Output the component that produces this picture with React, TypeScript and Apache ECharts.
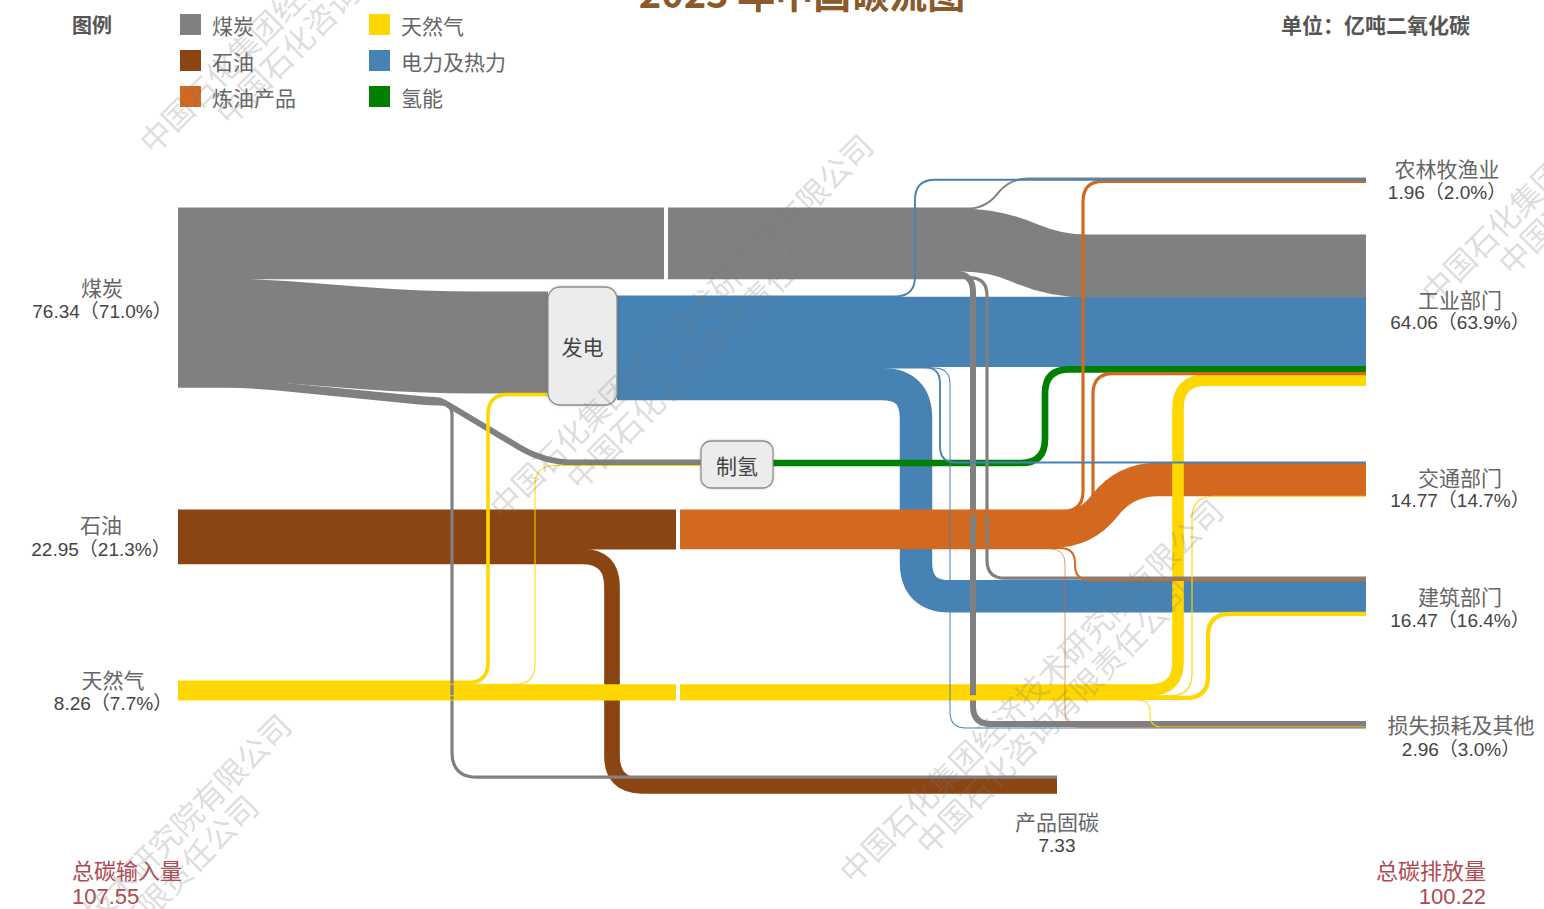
import React, { useEffect, useRef } from 'react';
import * as echarts from 'echarts';

// ---------------- data ----------------
const sourceNames = ['煤炭', '石油', '天然气'];
const sourceValues = [76.34, 22.95, 8.26];
const sectorNames = ['农林牧渔业', '工业部门', '交通部门', '建筑部门', '损失损耗及其他'];
const sectorValues = [1.96, 64.06, 14.77, 16.47, 2.96];
const productName = '产品固碳';
const productValue = 7.33;
const totalInput = 107.55;
const totalEmission = 100.22;
const processNames = ['发电', '制氢'];
const legendNames = ['煤炭', '石油', '炼油产品', '天然气', '电力及热力', '氢能'];
const titleText = '2023 年中国碳流图';
const unitText = '单位：亿吨二氧化碳';

// flows: [source, target, value 亿吨CO2]
const links: [string, string, number][] = [
  ['煤炭', '农林牧渔业', 0.5],
  ['煤炭', '工业部门', 26.4],
  ['煤炭', '损失损耗及其他', 2.2],
  ['煤炭', '建筑部门', 1.0],
  ['煤炭', '发电', 43.04],
  ['煤炭', '制氢', 2.2],
  ['煤炭', '产品固碳', 1.0],
  ['石油', '炼油', 16.62],
  ['石油', '产品固碳', 6.33],
  ['天然气', '发电', 1.2],
  ['天然气', '制氢', 0.3],
  ['天然气', '工业部门', 4.6],
  ['天然气', '交通部门', 0.36],
  ['天然气', '建筑部门', 1.5],
  ['天然气', '损失损耗及其他', 0.3],
  ['发电', '农林牧渔业', 0.46],
  ['发电', '工业部门', 29.56],
  ['发电', '交通部门', 0.45],
  ['发电', '损失损耗及其他', 0.3],
  ['发电', '建筑部门', 13.47],
  ['制氢', '工业部门', 2.5],
  ['炼油', '农林牧渔业', 1.0],
  ['炼油', '工业部门', 1.0],
  ['炼油', '交通部门', 13.96],
  ['炼油', '建筑部门', 0.5],
  ['炼油', '损失损耗及其他', 0.16],
];

// ---------------- layout & style ----------------
const W = 1544;
const H = 909;
const PX_PER_UNIT = 2.35;
const FONT = '"Noto Sans CJK SC", "Liberation Sans", sans-serif';
const NUM_FONT = '"Liberation Sans", "Noto Sans CJK SC", sans-serif';

const nodeColors: Record<string, string> = {
  煤炭: '#808080',
  石油: '#8B4513',
  炼油: '#D2691E',
  天然气: '#FFD700',
  发电: '#4682B4',
  制氢: '#008000',
};
const legendColors = ['#808080', '#8B4513', '#D2691E', '#FFD700', '#4682B4', '#008000'];

type NodeLayout = {
  inX?: number; inTop?: number; inOrder?: string[];
  outX?: number; outTop?: number; outOrder?: string[];
};
const NODE_LAYOUT: Record<string, NodeLayout> = {
  煤炭: { outX: 178, outTop: 208, outOrder: ['农林牧渔业', '工业部门', '损失损耗及其他', '建筑部门', '发电', '制氢', '产品固碳'] },
  石油: { outX: 178, outTop: 510, outOrder: ['炼油', '产品固碳'] },
  天然气: { outX: 178, outTop: 681, outOrder: ['发电', '制氢', '工业部门', '交通部门', '建筑部门', '损失损耗及其他'] },
  发电: { inX: 548, inTop: 292, inOrder: ['煤炭', '天然气'], outX: 617, outTop: 296, outOrder: ['农林牧渔业', '工业部门', '交通部门', '损失损耗及其他', '建筑部门'] },
  制氢: { inX: 701, inTop: 460, inOrder: ['煤炭', '天然气'], outX: 773, outTop: 460.05, outOrder: ['工业部门'] },
  炼油: { inX: 676, inTop: 510, inOrder: ['石油'], outX: 680, outTop: 510, outOrder: ['农林牧渔业', '工业部门', '交通部门', '建筑部门', '损失损耗及其他'] },
  农林牧渔业: { inX: 1366, inTop: 178, inOrder: ['煤炭', '发电', '炼油'] },
  工业部门: { inX: 1366, inTop: 235, inOrder: ['煤炭', '发电', '制氢', '炼油', '天然气'] },
  交通部门: { inX: 1366, inTop: 462, inOrder: ['发电', '炼油', '天然气'] },
  建筑部门: { inX: 1366, inTop: 577, inOrder: ['煤炭', '炼油', '发电', '天然气'] },
  损失损耗及其他: { inX: 1366, inTop: 721.5, inOrder: ['煤炭', '天然气', '炼油', '发电'] },
  产品固碳: { inX: 1057, inTop: 776, inOrder: ['煤炭', '石油'] },
};

type Turn = [number | [number, number], number | 't'];
const ROUTES: Record<string, { r: number; turns: Turn[] }> = {
  '煤炭>农林牧渔业': { r: 18, turns: [[[985, 1010], 't']] },
  '煤炭>工业部门': { r: 40, turns: [[[995, 1055], 't']] },
  '煤炭>损失损耗及其他': { r: 18, turns: [[973, 't']] },
  '煤炭>建筑部门': { r: 18, turns: [[987, 't']] },
  '煤炭>发电': { r: 60, turns: [[[250, 420], 't']] },
  '煤炭>制氢': { r: 30, turns: [[[250, 430], 400], [[440, 545], 't']] },
  '煤炭>产品固碳': { r: 25, turns: [[[250, 430], 404], [452, 't']] },
  '石油>炼油': { r: 0, turns: [] },
  '石油>产品固碳': { r: 30, turns: [[612, 't']] },
  '天然气>发电': { r: 20, turns: [[488, 't']] },
  '天然气>制氢': { r: 20, turns: [[535, 't']] },
  '天然气>工业部门': { r: 28, turns: [[1178, 't']] },
  '天然气>交通部门': { r: 22, turns: [[1192, 't']] },
  '天然气>建筑部门': { r: 22, turns: [[1208, 't']] },
  '天然气>损失损耗及其他': { r: 12, turns: [[1150, 't']] },
  '发电>农林牧渔业': { r: 20, turns: [[915, 't']] },
  '发电>工业部门': { r: 0, turns: [] },
  '发电>交通部门': { r: 16, turns: [[940, 't']] },
  '发电>损失损耗及其他': { r: 16, turns: [[950, 't']] },
  '发电>建筑部门': { r: 34, turns: [[916, 't']] },
  '制氢>工业部门': { r: 24, turns: [[1045, 't']] },
  '炼油>农林牧渔业': { r: 20, turns: [[1083, 't']] },
  '炼油>工业部门': { r: 20, turns: [[1093, 't']] },
  '炼油>交通部门': { r: 40, turns: [[[1085, 1125], 't']] },
  '炼油>建筑部门': { r: 15, turns: [[1075, 't']] },
  '炼油>损失损耗及其他': { r: 15, turns: [[1065, 't']] },
};

const DRAW_FIRST = [
  '发电>建筑部门', '发电>工业部门', '煤炭>工业部门', '煤炭>发电', '石油>炼油', '石油>产品固碳',
  '炼油>交通部门', '制氢>工业部门', '天然气>工业部门',
];

const BOX_LAYOUT: Record<string, { x: number; y: number; w: number; h: number; r: number }> = {
  发电: { x: 548, y: 287, w: 69, h: 118, r: 12 },
  制氢: { x: 701, y: 441, w: 72, h: 47, r: 10 },
};
const SEPARATORS = [
  { x: 664, y0: 204, y1: 281, w: 4 },
  { x: 676, y0: 679, y1: 703, w: 4 },
];

const SOURCE_LABEL_POS = [[102, 287, 311], [101, 524, 549], [113, 679, 703]];
const SECTOR_LABEL_POS = [[1447, 168, 192], [1460, 299, 322], [1460, 477, 500], [1460, 596, 620], [1461, 724, 749]];
const PRODUCT_LABEL_POS = [1057, 821, 845];
const STROKE_OVERLAP = 0.8;

// ---------------- helpers ----------------
const key = (s: string, t: string) => `${s}>${t}`;
const valueOf = new Map<string, number>(links.map(([s, t, v]) => [key(s, t), v]));
const sourceOf = new Map<string, string>(links.map(([s, t]) => [key(s, t), s]));

function computePorts() {
  const ports: Record<string, { sx: number; sy: number; tx: number; ty: number }> = {};
  links.forEach(([s, t]) => { ports[key(s, t)] = { sx: 0, sy: 0, tx: 0, ty: 0 }; });
  Object.keys(NODE_LAYOUT).forEach((name) => {
    const lay = NODE_LAYOUT[name];
    if (lay.outOrder) {
      let y = lay.outTop!;
      lay.outOrder.forEach((t) => {
        const k = key(name, t);
        const w = valueOf.get(k)! * PX_PER_UNIT;
        ports[k].sx = lay.outX!;
        ports[k].sy = y + w / 2;
        y += w;
      });
    }
    if (lay.inOrder) {
      let y = lay.inTop!;
      lay.inOrder.forEach((s) => {
        const k = key(s, name);
        const w = valueOf.get(k)! * PX_PER_UNIT;
        ports[k].tx = lay.inX!;
        ports[k].ty = y + w / 2;
        y += w;
      });
    }
  });
  return ports;
}

function linkPoints(k: string, ports: ReturnType<typeof computePorts>) {
  const p = ports[k];
  const route = ROUTES[k];
  const pts: number[][] = [[p.sx, p.sy]];
  let y = p.sy;
  route.turns.forEach(([tx, ly]) => {
    const ny = ly === 't' ? p.ty : ly;
    const [xa, xb] = Array.isArray(tx) ? tx : [tx, tx];
    pts.push([xa, y], [xb, ny]);
    y = ny;
  });
  pts.push([p.tx, route.turns.length ? y : p.ty]);
  return pts;
}

function roundedPath(raw: number[][], r: number): string {
  const pts: number[][] = [];
  raw.forEach((p) => {
    const last = pts[pts.length - 1];
    if (!last || Math.hypot(p[0] - last[0], p[1] - last[1]) > 0.01) pts.push(p);
  });
  const clean: number[][] = [pts[0]];
  for (let i = 1; i < pts.length - 1; i++) {
    const a = clean[clean.length - 1], b = pts[i], c = pts[i + 1];
    const cross = (b[0] - a[0]) * (c[1] - b[1]) - (b[1] - a[1]) * (c[0] - b[0]);
    if (Math.abs(cross) > 1e-6) clean.push(b);
  }
  if (pts.length > 1) clean.push(pts[pts.length - 1]);
  const f = (n: number) => n.toFixed(2);
  let d = `M${f(clean[0][0])},${f(clean[0][1])}`;
  for (let i = 1; i < clean.length - 1; i++) {
    const [px, py] = clean[i - 1];
    const [cx, cy] = clean[i];
    const [nx, ny] = clean[i + 1];
    const l1 = Math.hypot(cx - px, cy - py);
    const l2 = Math.hypot(nx - cx, ny - cy);
    const dd = Math.min(r, l1 / 2, l2 / 2);
    const ax = cx - ((cx - px) / l1) * dd, ay = cy - ((cy - py) / l1) * dd;
    const bx = cx + ((nx - cx) / l2) * dd, by = cy + ((ny - cy) / l2) * dd;
    d += ` L${f(ax)},${f(ay)} Q${f(cx)},${f(cy)} ${f(bx)},${f(by)}`;
  }
  const last = clean[clean.length - 1];
  d += ` L${f(last[0])},${f(last[1])}`;
  return d;
}

function txt(text: string, x: number, y: number, o: any = {}) {
  const align = o.align || 'center';
  return {
    type: 'text',
    x, y,
    rotation: o.rotation || 0,
    z: o.z ?? 10,
    silent: true,
    style: {
      text,
      fill: o.color || '#555',
      fontSize: o.size || 20,
      fontFamily: o.family || FONT,
      fontWeight: o.weight || 'normal',
      align, textAlign: align,
      verticalAlign: 'middle', textVerticalAlign: 'middle',
    },
  };
}

const fmt = (v: number, total: number) => `${v.toFixed(2)}（${((v / total) * 100).toFixed(1)}%）`;

function buildOption() {
  const ports = computePorts();
  const rest = links
    .map(([s, t]) => key(s, t))
    .filter((k) => !DRAW_FIRST.includes(k))
    .sort((a, b) => valueOf.get(b)! - valueOf.get(a)!);
  const drawKeys = [...DRAW_FIRST, ...rest];
  const flowData = drawKeys.map((k, i) => [i, valueOf.get(k)!]);

  const graphics: any[] = [];
  // title (cut at top edge, as in the reference)
  graphics.push(txt(titleText, 802, -9, { size: 38, weight: 'bold', color: '#8B5A2B' }));
  // legend
  graphics.push(txt('图例', 72, 24, { align: 'left', size: 20, weight: 'bold', color: '#555' }));
  legendNames.forEach((name, i) => {
    const col = Math.floor(i / 3), row = i % 3;
    const x = col === 0 ? 180 : 369;
    const y = 14 + row * 36;
    graphics.push({ type: 'rect', z: 10, silent: true, shape: { x, y, width: 21, height: 21 }, style: { fill: legendColors[i] } });
    graphics.push(txt(name, x + 32, y + 10.5, { align: 'left', size: 21, color: '#666' }));
  });
  graphics.push(txt(unitText, 1281, 24, { align: 'left', size: 21, weight: 'bold', color: '#555' }));

  // node labels
  sourceNames.forEach((n, i) => {
    const [cx, y1, y2] = SOURCE_LABEL_POS[i];
    graphics.push(txt(n, cx, y1, { size: 21, color: '#666' }));
    graphics.push(txt(fmt(sourceValues[i], totalInput), cx, y2, { size: 19, family: NUM_FONT, color: '#444' }));
  });
  sectorNames.forEach((n, i) => {
    const [cx, y1, y2] = SECTOR_LABEL_POS[i];
    graphics.push(txt(n, cx, y1, { size: 21, color: '#666' }));
    graphics.push(txt(fmt(sectorValues[i], totalEmission), cx, y2, { size: 19, family: NUM_FONT, color: '#444' }));
  });
  graphics.push(txt(productName, PRODUCT_LABEL_POS[0], PRODUCT_LABEL_POS[1], { size: 21, color: '#666' }));
  graphics.push(txt(productValue.toFixed(2), PRODUCT_LABEL_POS[0], PRODUCT_LABEL_POS[2], { size: 19, family: NUM_FONT, color: '#444' }));

  // totals
  graphics.push(txt('总碳输入量', 72, 869, { align: 'left', size: 22, color: '#b04a52' }));
  graphics.push(txt(totalInput.toFixed(2), 72, 896, { align: 'left', size: 22, family: NUM_FONT, color: '#b04a52' }));
  graphics.push(txt('总碳排放量', 1486, 869, { align: 'right', size: 22, color: '#b04a52' }));
  graphics.push(txt(totalEmission.toFixed(2), 1486, 896, { align: 'right', size: 22, family: NUM_FONT, color: '#b04a52' }));

  // watermarks
  const wmA = '中国石化集团经济技术研究院有限公司';
  const wmB = '中国石化咨询有限责任公司';
  const wmCells = [[0, 0], [1, 0], [-1, 0], [0, -1], [1, 1]];
  wmCells.forEach(([i, j]) => {
    const cx = 680 + i * 350 + j * 582;
    const cy = 325 + i * 365 - j * 580;
    graphics.push(txt(wmA, cx, cy, { rotation: Math.PI / 4, size: 31, color: 'rgba(120,120,120,0.26)', z: 100 }));
    graphics.push(txt(wmB, cx + 22, cy + 26, { rotation: Math.PI / 4, size: 31, color: 'rgba(120,120,120,0.26)', z: 100 }));
  });

  return {
    animation: false,
    backgroundColor: '#ffffff',
    grid: { left: 0, right: 0, top: 0, bottom: 0 },
    xAxis: { type: 'value', min: 0, max: W, show: false },
    yAxis: { type: 'value', min: 0, max: H, inverse: true, show: false },
    series: [
      {
        type: 'custom',
        name: 'flows',
        silent: true,
        z: 2,
        data: flowData,
        renderItem: (params: any, api: any) => {
          const k = drawKeys[params.dataIndex];
          const pts = linkPoints(k, ports).map((p) => api.coord(p));
          const w = Math.abs(api.size([0, api.value(1) * PX_PER_UNIT])[1]);
          const lw = w >= 1 ? w + STROKE_OVERLAP : w + 0.3;
          return {
            type: 'path',
            shape: { pathData: roundedPath(pts, ROUTES[k].r) },
            style: { fill: 'none', stroke: nodeColors[sourceOf.get(k)!], lineWidth: lw, lineCap: 'butt', lineJoin: 'round' },
          };
        },
      },
      {
        type: 'custom',
        name: 'nodes',
        silent: true,
        z: 3,
        data: [...SEPARATORS.map((_, i) => [i, 0]), ...processNames.map((_, i) => [SEPARATORS.length + i, 0])],
        renderItem: (params: any, api: any) => {
          const idx = params.dataIndex;
          if (idx < SEPARATORS.length) {
            const s = SEPARATORS[idx];
            const a = api.coord([s.x, s.y0]);
            const b = api.coord([s.x + s.w, s.y1]);
            return { type: 'rect', shape: { x: a[0], y: a[1], width: b[0] - a[0], height: b[1] - a[1] }, style: { fill: '#ffffff' } };
          }
          const name = processNames[idx - SEPARATORS.length];
          const bx = BOX_LAYOUT[name];
          const a = api.coord([bx.x, bx.y]);
          const b = api.coord([bx.x + bx.w, bx.y + bx.h]);
          return {
            type: 'group',
            children: [
              {
                type: 'rect',
                shape: { x: a[0], y: a[1], width: b[0] - a[0], height: b[1] - a[1], r: bx.r },
                style: { fill: '#ececec', stroke: '#8f8f8f', lineWidth: 1.3, shadowBlur: 3, shadowColor: 'rgba(0,0,0,0.2)' },
              },
              {
                type: 'text',
                style: {
                  text: name, x: (a[0] + b[0]) / 2, y: (a[1] + b[1]) / 2,
                  align: 'center', verticalAlign: 'middle', textAlign: 'center', textVerticalAlign: 'middle',
                  fill: '#444', fontSize: 21, fontFamily: FONT,
                },
              },
            ],
          };
        },
      },
    ],
    graphic: { elements: graphics },
  };
}

export default function App() {
  const ref = useRef<HTMLDivElement>(null);
  useEffect(() => {
    if (!ref.current) return;
    const chart = echarts.init(ref.current, null, { renderer: 'svg' });
    chart.setOption(buildOption() as any);
    return () => chart.dispose();
  }, []);
  return (
    <div
      ref={ref}
      style={{ position: 'absolute', left: 0, top: 0, width: W, height: H, background: '#ffffff' }}
    />
  );
}
